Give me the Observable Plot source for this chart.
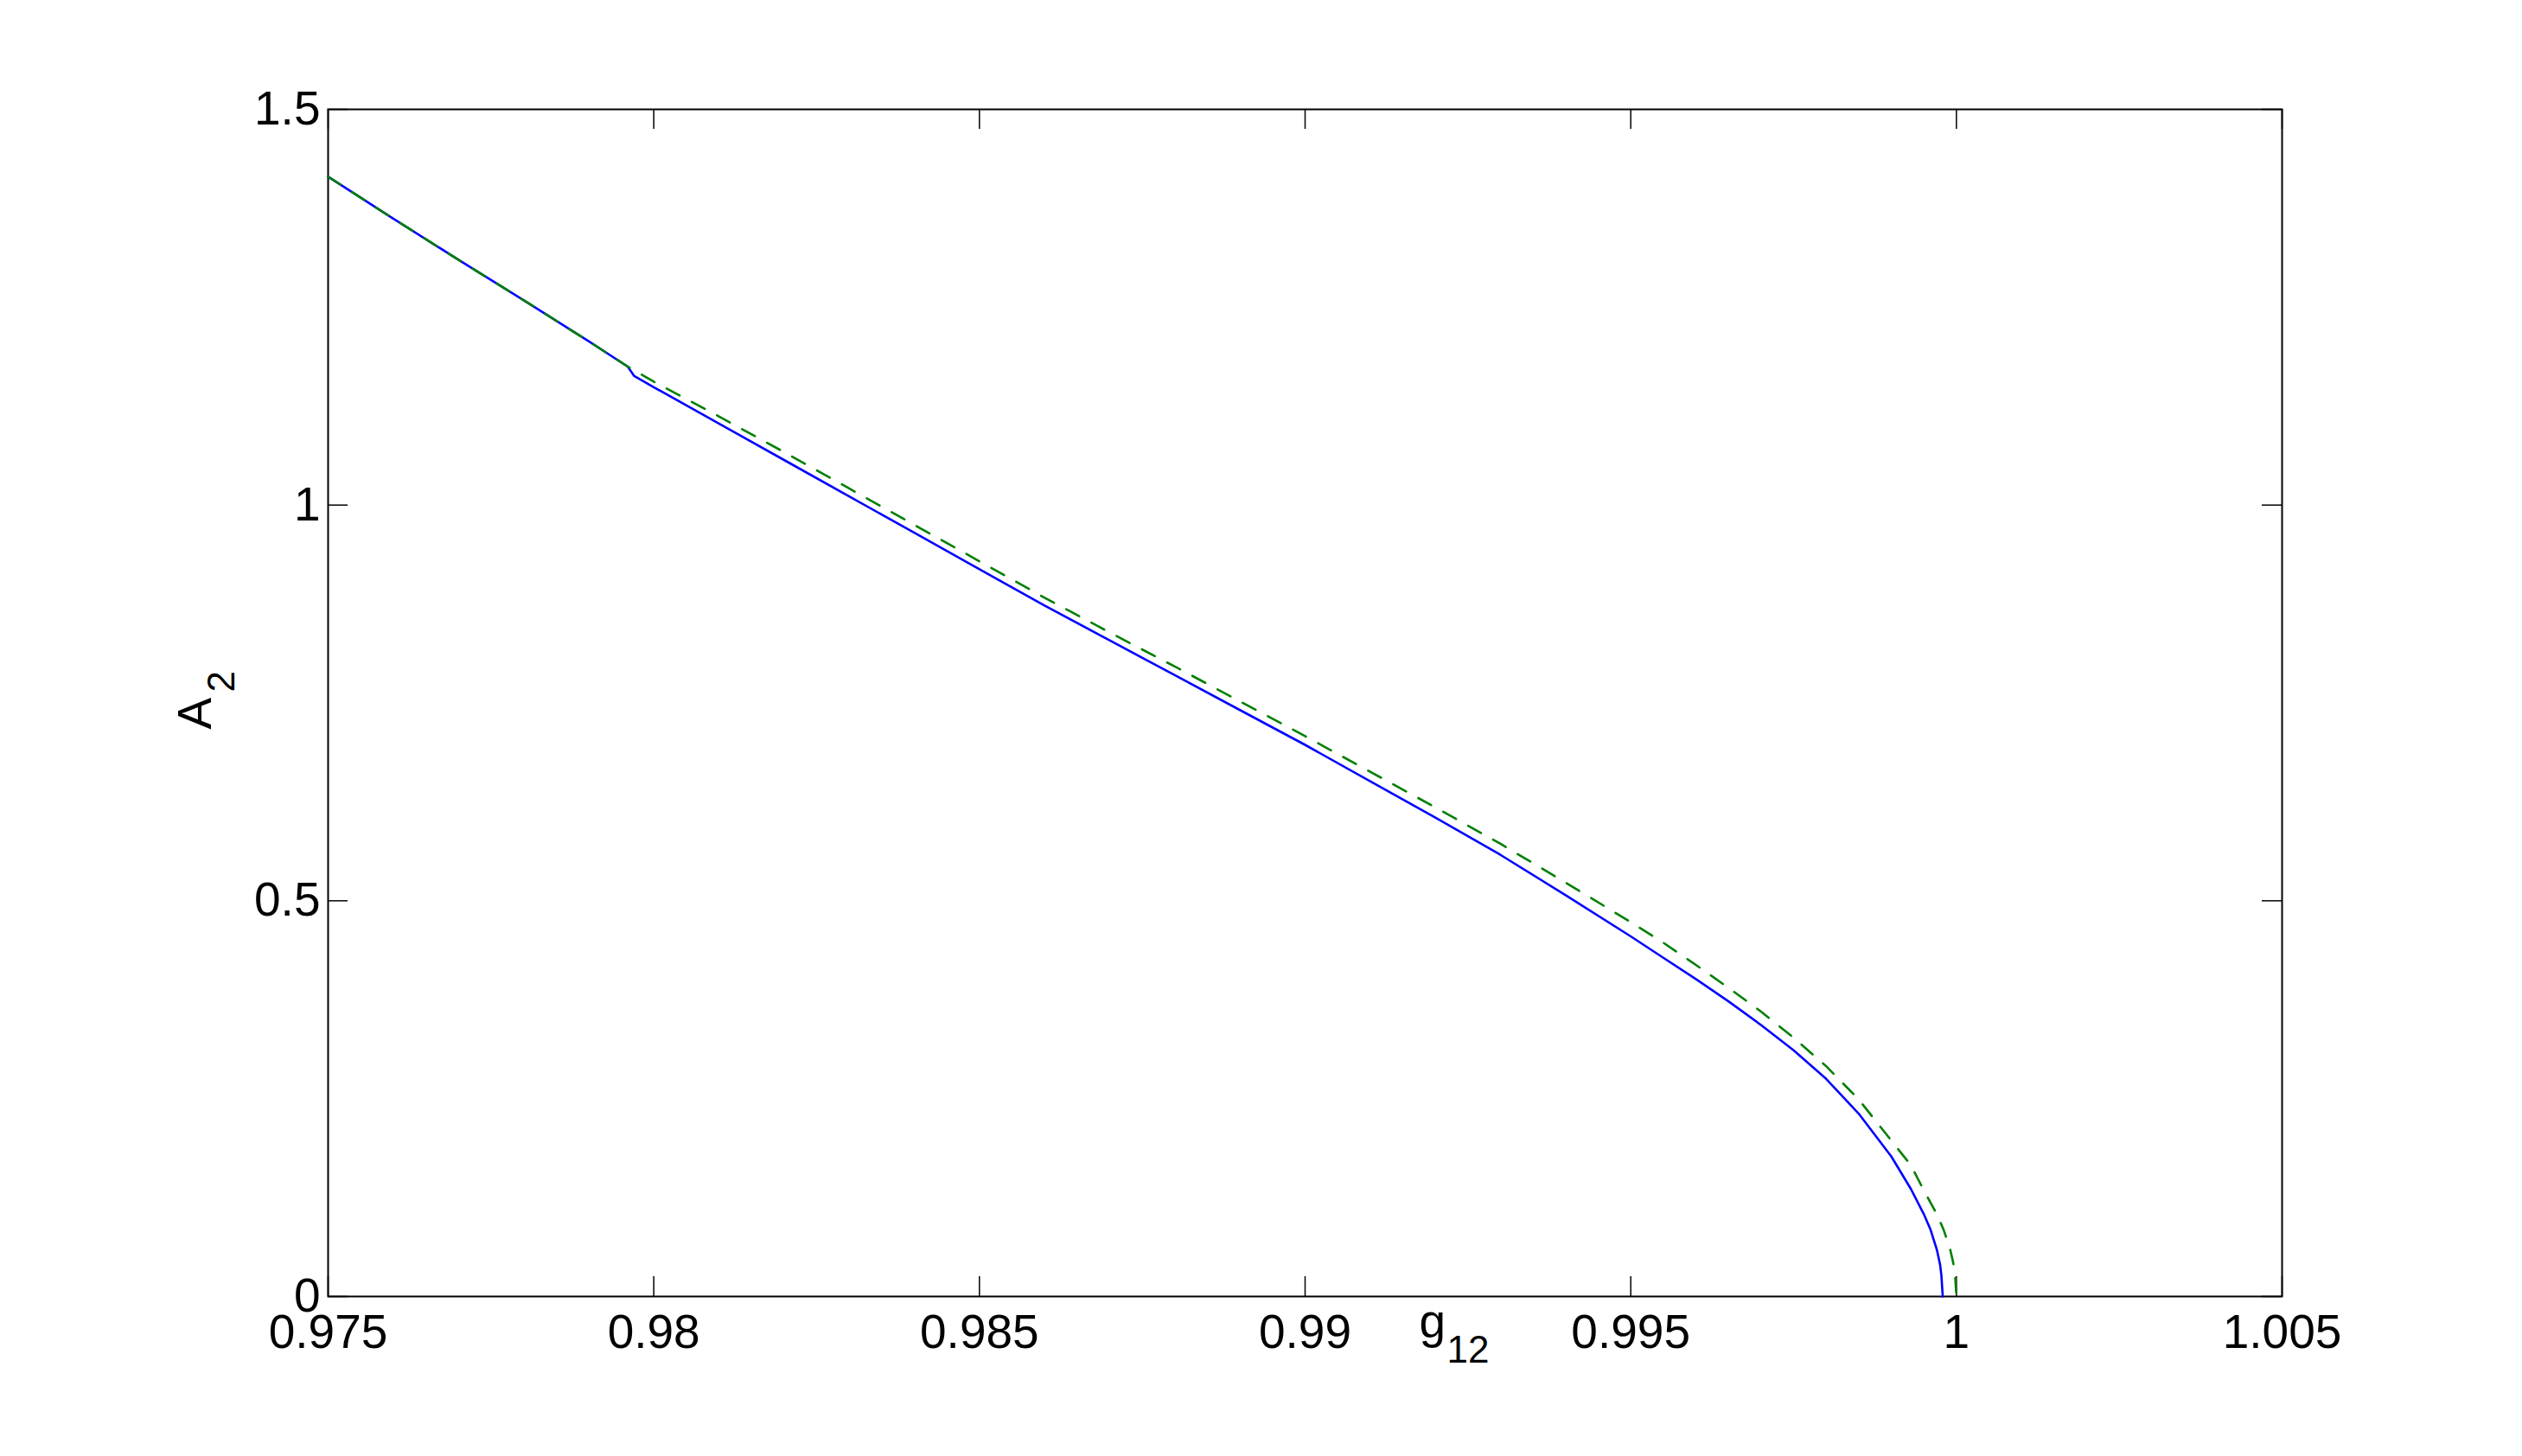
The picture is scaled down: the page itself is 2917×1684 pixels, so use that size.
<!DOCTYPE html>
<html>
<head>
<meta charset="utf-8">
<script src="https://cdn.jsdelivr.net/npm/d3@7"></script>
<script src="https://cdn.jsdelivr.net/npm/@observablehq/plot@0.6"></script>
<style>
  html, body { margin: 0; padding: 0; background: #fff; overflow: hidden; }
</style>
</head>
<body>
<div id="chart"></div>
<script>
// ---- data ----
const xTicks = [0.975, 0.98, 0.985, 0.99, 0.995, 1, 1.005];
const xTickLabels = ["0.975", "0.98", "0.985", "0.99", "0.995", "1", "1.005"];
const yTicks = [0, 0.5, 1, 1.5];
const yTickLabels = ["0", "0.5", "1", "1.5"];

const gBlue = [0.975, 0.976, 0.977, 0.978, 0.979, 0.9796, 0.9797, 0.980, 0.981, 0.982, 0.983, 0.984, 0.985, 0.986, 0.987, 0.988, 0.989, 0.990, 0.991, 0.992, 0.993, 0.994, 0.995, 0.9955, 0.996, 0.9965, 0.997, 0.9975, 0.998, 0.9985, 0.999, 0.9993, 0.9995, 0.9996, 0.9997, 0.99975, 0.99977, 0.99979];
const aBlue = [1.415, 1.362, 1.310, 1.259, 1.207, 1.175, 1.163, 1.149, 1.103, 1.057, 1.011, 0.965, 0.919, 0.873, 0.829, 0.785, 0.741, 0.697, 0.651, 0.605, 0.558, 0.507, 0.455, 0.428, 0.401, 0.373, 0.343, 0.311, 0.275, 0.231, 0.177, 0.136, 0.104, 0.085, 0.059, 0.040, 0.026, 0.0];

const gGreen = [0.975, 0.976, 0.977, 0.978, 0.979, 0.9796, 0.980, 0.981, 0.982, 0.983, 0.984, 0.985, 0.986, 0.987, 0.988, 0.989, 0.990, 0.991, 0.992, 0.993, 0.994, 0.995, 0.9955, 0.996, 0.9965, 0.997, 0.9975, 0.998, 0.9985, 0.999, 0.9993, 0.9995, 0.9997, 0.9998, 0.9999, 0.99995, 0.99998, 1.0];
const aGreen = [1.415, 1.362, 1.310, 1.259, 1.207, 1.175, 1.156, 1.112, 1.067, 1.021, 0.975, 0.929, 0.883, 0.839, 0.796, 0.752, 0.708, 0.663, 0.618, 0.572, 0.523, 0.473, 0.447, 0.419, 0.390, 0.360, 0.327, 0.291, 0.249, 0.197, 0.166, 0.134, 0.104, 0.085, 0.061, 0.043, 0.027, 0.0];

const blue = gBlue.map((g, i) => ({g, a: aBlue[i]}));
const green = gGreen.map((g, i) => ({g, a: aGreen[i]}));
const xLabelMap = new Map(xTicks.map((t, i) => [t, xTickLabels[i]]));
const yLabelMap = new Map(yTicks.map((t, i) => [t, yTickLabels[i]]));

// ---- layout ----
const W = 2917, H = 1684;
const mL = 379, mR = 278, mT = 126, mB = 185;
const frameW = W - mL - mR, frameH = H - mT - mB;
const tickLen = 23;
const FONT = "'Liberation Sans', Arial, Helvetica, sans-serif";

const chart = Plot.plot({
  width: W,
  height: H,
  marginLeft: mL,
  marginRight: mR,
  marginTop: mT,
  marginBottom: mB,
  style: {fontFamily: FONT, fontSize: "55px", background: "#fff", color: "#000"},
  x: {domain: [0.975, 1.005]},
  y: {domain: [0, 1.5]},
  marks: [
    Plot.axisX(xTicks, {tickSize: 0, tickPadding: 20, tickFormat: d => xLabelMap.get(d), label: null, fontSize: 55}),
    Plot.axisY(yTicks, {tickSize: 0, tickPadding: 9, tickFormat: d => yLabelMap.get(d), label: null, fontSize: 55}),
    // inward ticks on all four sides
    Plot.ruleX(xTicks, {x: d => d, insetTop: frameH - tickLen, stroke: "#000", strokeWidth: 1.5}),
    Plot.ruleX(xTicks, {x: d => d, insetBottom: frameH - tickLen, stroke: "#000", strokeWidth: 1.5}),
    Plot.ruleY(yTicks, {y: d => d, insetRight: frameW - tickLen, stroke: "#000", strokeWidth: 1.5}),
    Plot.ruleY(yTicks, {y: d => d, insetLeft: frameW - tickLen, stroke: "#000", strokeWidth: 1.5}),
    Plot.frame({stroke: "#000", strokeWidth: 2}),
    Plot.line(blue, {x: "g", y: "a", stroke: "#0000ff", strokeWidth: 2.6, curve: "linear"}),
    Plot.line(green, {x: "g", y: "a", stroke: "#007f00", strokeWidth: 2.6, strokeDasharray: "17,16", curve: "linear"}),
    // axis labels with subscripts
    Plot.text(["g"], {text: d => d, frameAnchor: "bottom", textAnchor: "start", lineAnchor: "bottom", dx: 1641 - (mL + frameW / 2), dy: 47, fontSize: 55, fill: "#000"}),
    Plot.text(["12"], {text: d => d, frameAnchor: "bottom", textAnchor: "start", lineAnchor: "bottom", dx: 1673 - (mL + frameW / 2), dy: 76, fontSize: 44, fill: "#000"}),
    Plot.text(["A"], {text: d => d, frameAnchor: "left", rotate: -90, textAnchor: "start", lineAnchor: "bottom", dx: 243 - mL, dy: 843 - (mT + frameH / 2), fontSize: 55, fill: "#000"}),
    Plot.text(["2"], {text: d => d, frameAnchor: "left", rotate: -90, textAnchor: "start", lineAnchor: "bottom", dx: 270 - mL, dy: 800 - (mT + frameH / 2), fontSize: 44, fill: "#000"})
  ]
});
document.getElementById("chart").appendChild(chart);
</script>
</body>
</html>
